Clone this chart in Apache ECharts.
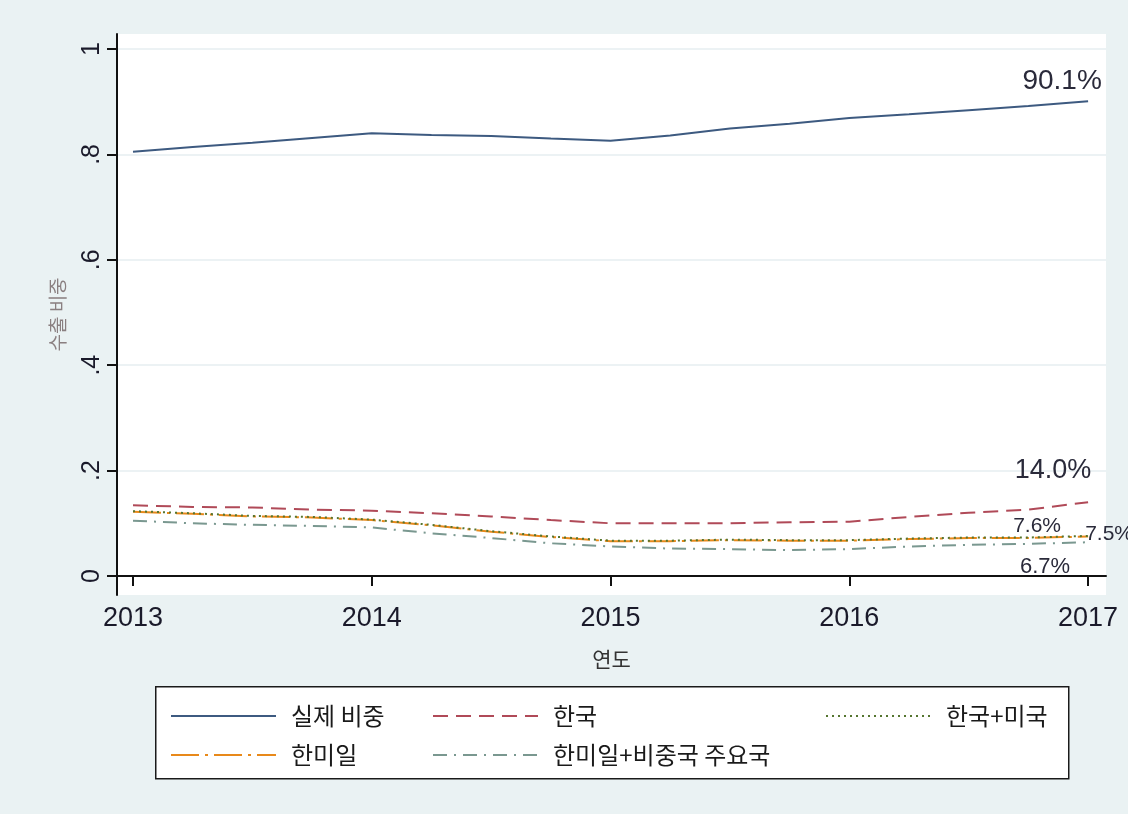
<!DOCTYPE html>
<html>
<head>
<meta charset="utf-8">
<script src="https://cdn.jsdelivr.net/npm/echarts@6/dist/echarts.min.js"></script>
<style>
html,body{margin:0;padding:0;background:#eaf2f3;}
#chart{width:1128px;height:814px;}
</style>
</head>
<body>
<div id="chart"></div>
<script>
// ---- data ----
const years = [2013, 2013.25, 2013.5, 2013.75, 2014, 2014.25, 2014.5, 2014.75, 2015, 2015.25, 2015.5, 2015.75, 2016, 2016.25, 2016.5, 2016.75, 2017];
const actualShare = [0.805, 0.814, 0.822, 0.831, 0.840, 0.837, 0.835, 0.830, 0.826, 0.836, 0.849, 0.858, 0.869, 0.876, 0.884, 0.892, 0.901];
const korea       = [0.134, 0.131, 0.130, 0.126, 0.124, 0.119, 0.113, 0.106, 0.100, 0.100, 0.100, 0.102, 0.103, 0.112, 0.120, 0.126, 0.140];
const koreaUS     = [0.123, 0.119, 0.114, 0.112, 0.107, 0.097, 0.085, 0.075, 0.067, 0.067, 0.069, 0.068, 0.068, 0.071, 0.073, 0.073, 0.076];
const koreaUSJapan= [0.122, 0.118, 0.113, 0.111, 0.106, 0.096, 0.084, 0.074, 0.066, 0.066, 0.068, 0.067, 0.067, 0.070, 0.072, 0.072, 0.075];
const kujPlus     = [0.105, 0.100, 0.097, 0.095, 0.092, 0.081, 0.072, 0.062, 0.056, 0.052, 0.051, 0.049, 0.051, 0.056, 0.059, 0.061, 0.064];
const seriesNames = ['실제 비중', '한국', '한국+미국', '한미일', '한미일+비중국 주요국'];
const endLabels = ['90.1%', '14.0%', '7.6%', '7.5%', '6.7%'];
const xTicks = [2013, 2014, 2015, 2016, 2017];
const yTicks = [0, 0.2, 0.4, 0.6, 0.8, 1];
const yTickLabels = ['0', '.2', '.4', '.6', '.8', '1'];
const xTitle = '연도';
const yTitle = '수출 비중';

// ---- styles ----
const values = [actualShare, korea, koreaUS, koreaUSJapan, kujPlus];
const colors = ['#3d5a80', '#b04a58', '#55752f', '#e8891a', '#7a9890'];
const dashes = ['solid', [15, 8], [2, 4], [28, 6, 3, 6], [14, 7, 2, 7]];
const labelStyles = [
  {offset: [-26, -20], fontSize: 28},
  {offset: [-35, -32], fontSize: 27},
  {offset: [-51, -10], fontSize: 21},
  {offset: [21, -2], fontSize: 21},
  {offset: [-43, 25], fontSize: 22}
];
const legendPos = [[170, 704], [432, 704], [825, 704], [170, 743], [432, 743]];
const numFont = '"Liberation Sans", Arial, sans-serif';
const krFont = '"Noto Sans CJK KR", "Liberation Sans", sans-serif';

const series = seriesNames.map((name, si) => ({
  name: name,
  type: 'line',
  symbol: 'none',
  showSymbol: false,
  smooth: false,
  z: 10 - si,
  lineStyle: {color: colors[si], width: 2, type: dashes[si]},
  itemStyle: {color: colors[si]},
  endLabel: Object.assign({
    show: true,
    formatter: endLabels[si],
    color: '#2a2a3a',
    fontFamily: numFont,
    align: 'center',
    verticalAlign: 'middle',
    distance: 0
  }, labelStyles[si]),
  data: years.map((x, i) => [x, values[si][i]])
}));

const legends = seriesNames.map((name, si) => ({
  data: [name],
  left: legendPos[si][0],
  top: legendPos[si][1],
  padding: 0,
  itemWidth: 105,
  itemHeight: 14,
  selectedMode: false,
  itemStyle: {opacity: 0},
  textStyle: {fontSize: 24, color: '#1a1a1a', fontFamily: krFont, padding: [0, 0, 0, 10]}
}));

const chart = echarts.init(document.getElementById('chart'), null, {renderer: 'canvas'});
chart.setOption({
  animation: false,
  backgroundColor: '#eaf2f3',
  grid: {left: 117, right: 22, top: 34, bottom: 219, show: true, backgroundColor: '#ffffff', borderWidth: 0},
  xAxis: {
    type: 'value',
    min: 2012.933,
    max: 2017.075,
    name: xTitle,
    nameLocation: 'middle',
    nameGap: 54,
    nameTextStyle: {fontSize: 21, color: '#333', fontFamily: krFont},
    axisLine: {show: true, lineStyle: {color: '#111', width: 2}},
    axisTick: {show: true, length: 10, lineStyle: {color: '#111', width: 2}, customValues: xTicks},
    axisLabel: {customValues: xTicks, fontSize: 27, color: '#1a1a2a', fontFamily: numFont, margin: 10, formatter: v => String(Math.round(v))},
    splitLine: {show: false}
  },
  yAxis: {
    type: 'value',
    min: -0.0361,
    max: 1.0285,
    name: yTitle,
    nameLocation: 'middle',
    nameRotate: 90,
    nameGap: 50,
    nameTextStyle: {fontSize: 19, color: '#8a7f80', fontFamily: krFont},
    axisLine: {show: true, lineStyle: {color: '#111', width: 2}},
    axisTick: {show: true, length: 10, lineStyle: {color: '#111', width: 2}, customValues: yTicks},
    axisLabel: {
      customValues: yTicks, rotate: 90, fontSize: 25, color: '#1a1a2a', fontFamily: numFont, margin: 12,
      formatter: v => { const k = yTicks.findIndex(t => Math.abs(t - v) < 1e-6); return k >= 0 ? yTickLabels[k] : ''; }
    },
    splitLine: {show: true, lineStyle: {color: '#e6eef0', width: 1.5}}
  },
  legend: legends,
  graphic: [{
    type: 'rect',
    left: 155, top: 686,
    shape: {width: 913, height: 92},
    style: {fill: '#ffffff', stroke: '#1a1a1a', lineWidth: 1.5},
    z: 0
  }],
  series: series
});
</script>
</body>
</html>
